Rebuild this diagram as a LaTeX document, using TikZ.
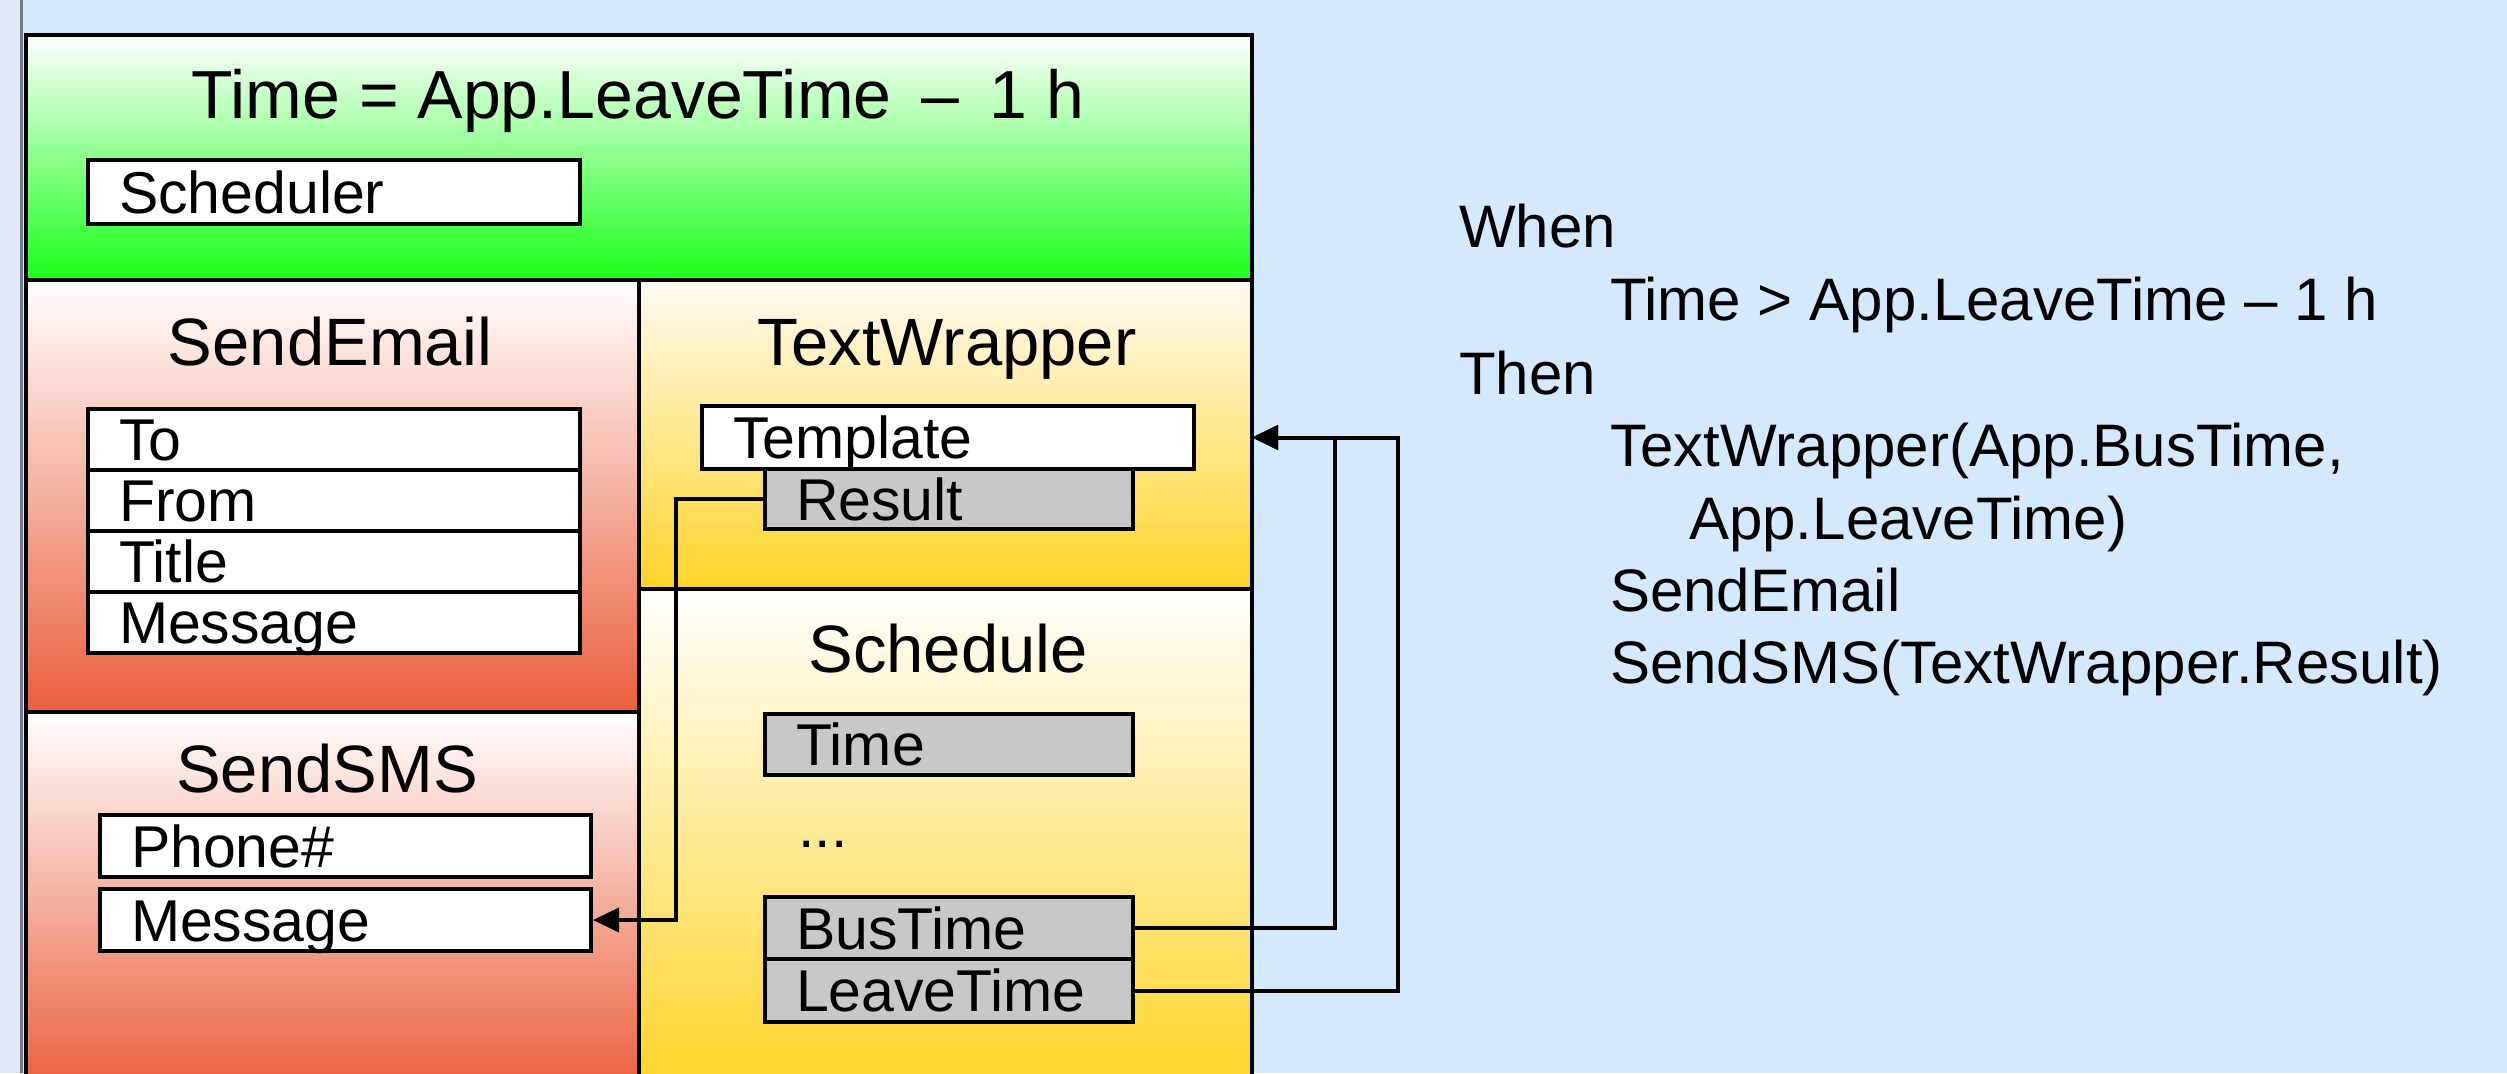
\documentclass[tikz,border=0pt]{standalone}
\usepackage{fontspec}
\setmainfont{Liberation Sans}
\usetikzlibrary{arrows.meta}
\definecolor{bgblue}{RGB}{213,233,252}
\definecolor{stripcol}{RGB}{226,232,245}
\definecolor{stripline}{RGB}{110,120,140}
\definecolor{greenB}{RGB}{25,255,25}
\definecolor{greenM}{RGB}{178,255,178}
\definecolor{redB}{RGB}{234,95,60}
\definecolor{redM}{RGB}{243,186,172}
\definecolor{goldB}{RGB}{255,212,40}
\definecolor{goldM}{RGB}{255,236,178}
\definecolor{goldT}{RGB}{255,251,244}
\definecolor{boxgray}{RGB}{200,200,200}
\begin{document}
\begin{tikzpicture}[x=1pt,y=-1pt,
  every node/.style={inner sep=0pt},
  hfont/.style={font=\fontsize{67}{80}\selectfont},
  ifont/.style={font=\fontsize{59}{70}\selectfont},
  rfont/.style={font=\fontsize{60}{72}\selectfont},
  box/.style={draw=black, line width=4pt, fill=white, anchor=north west,
    text width=#1, inner xsep=31pt, inner ysep=0pt, align=left,
    text height=42pt, text depth=0pt, ifont},
  gbox/.style={box=#1, fill=boxgray},
  frameline/.style={draw=black, line width=4pt},
  conn/.style={draw=black, line width=4pt},
  arr/.style={conn, -{Triangle[length=26pt,width=24pt]}}
]
\useasboundingbox (0,0) rectangle (2507,1073);
\clip (0,0) rectangle (2507,1073);
% background
\fill[bgblue] (0,0) rectangle (2507,1073);
\fill[stripcol] (0,0) rectangle (21,1073);
\draw[stripline, line width=2.5pt] (21.5,0) -- (21.5,1073);
% section fills
\shade[top color=white, middle color=greenM, bottom color=greenB] (26,35) rectangle (1252,280);
\shade[top color=white, middle color=redM, bottom color=redB] (26,280) rectangle (639,712);
\shade[top color=white, middle color=redM, bottom color=redB] (26,712) rectangle (639,1090);
\shade[top color=goldT, middle color=goldM, bottom color=goldB] (639,280) rectangle (1252,589);
\shade[top color=white, middle color=goldM, bottom color=goldB] (639,589) rectangle (1252,1090);
% frame
\draw[frameline] (26,1100) -- (26,35) -- (1252,35) -- (1252,1100);
\draw[frameline] (26,280) -- (1252,280);
\draw[frameline, line width=3.5pt] (639,280) -- (639,1100);
\draw[frameline] (26,712) -- (639,712);
\draw[frameline] (639,589) -- (1252,589);
\coordinate (fr) at (1252,35);
% headings
\node[font=\fontsize{68}{80}\selectfont, anchor=base] (title) at (638,118) {Time = App.LeaveTime \,–\, 1 h};
\node[hfont, anchor=base] (hse) at (330,365) {SendEmail};
\node[hfont, anchor=base] (htw) at (947,365) {TextWrapper};
\node[hfont, anchor=base] (hsc) at (948,672) {Schedule};
\node[hfont, anchor=base] (hss) at (327,792) {SendSMS};
% boxes
\node[box=430pt, minimum height=64pt] (sched) at (86,158) {Scheduler};
\node[box=430pt, minimum height=61pt] (to) at (86,407) {To};
\node[box=430pt, minimum height=61pt] (from) at (86,468) {From};
\node[box=430pt, minimum height=61pt] (ttl) at (86,529) {Title};
\node[box=430pt, minimum height=61pt] (msg1) at (86,590) {Message};
\node[gbox=306pt, minimum height=60pt] (result) at (763,467) {Result};
\node[box=430pt, minimum height=63pt] (templ) at (700,404) {Template};
\node[gbox=306pt, minimum height=61pt] (time) at (763,712) {Time};
\node[ifont, anchor=base west] (dots) at (798,847) {...};
\node[gbox=306pt, minimum height=62pt] (bus) at (763,895) {BusTime};
\node[gbox=306pt, minimum height=63pt] (leave) at (763,957) {LeaveTime};
\node[box=429pt, minimum height=62pt] (phone) at (98,813) {Phone\#};
\node[box=429pt, minimum height=62pt] (msg2) at (98,887) {Message};
% connectors
\draw[arr] (result.west) -- ++(-87,0) |- (msg2.east);
\draw[arr] (leave.east) -- ++(263,0) |- (fr |- templ.east);
\draw[arr] (bus.east) -- ++(200,0) |- (fr |- templ.east);
% rule text
\node[rfont, anchor=base west] (r1) at (1459,247) {When};
\node[rfont, anchor=base west] (r2) at (1610,320) {Time > App.LeaveTime – 1 h};
\node[rfont, anchor=base west] (r3) at (1459,394) {Then};
\node[rfont, anchor=base west] (r4) at (1610,466) {TextWrapper(App.BusTime,};
\node[rfont, anchor=base west] (r5) at (1689,539) {App.LeaveTime)};
\node[rfont, anchor=base west] (r6) at (1610,611) {SendEmail};
\node[rfont, anchor=base west] (r7) at (1610,683) {SendSMS(TextWrapper.Result)};
\end{tikzpicture}
\end{document}
